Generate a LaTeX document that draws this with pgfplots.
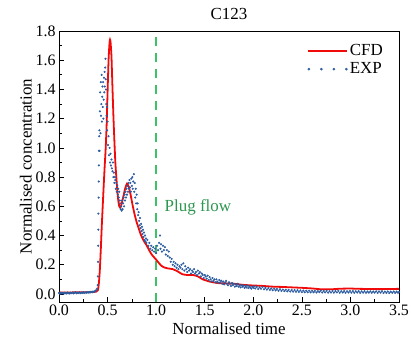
\documentclass[border=0pt]{standalone}
\usepackage{fontspec}
\setmainfont{Liberation Serif}
\usepackage{pgfplots}
\pgfplotsset{compat=1.18}
\definecolor{cfdred}{RGB}{240,10,10}
\definecolor{expblue}{RGB}{44,92,160}
\definecolor{plugline}{RGB}{60,195,105}
\definecolor{plugtext}{RGB}{45,150,80}
\begin{document}
\begin{tikzpicture}
\useasboundingbox (-59bp,-39bp) rectangle (352bp,302bp);
\begin{axis}[
  at={(0,0)}, anchor=south west,
  scale only axis, width=340bp, height=271bp,
  xmin=0, xmax=3.5, ymin=-0.055, ymax=1.8,
  xtick={0,0.5,...,3.5}, ytick={0,0.2,...,1.8},
  minor x tick num=1, minor y tick num=1,
  tick align=inside, xtick pos=bottom, ytick pos=left,
  major tick length=5bp, minor tick length=3bp,
  axis line style={line width=0.8pt}, every tick/.style={line width=0.7pt, black},
  /pgf/number format/.cd, fixed, fixed zerofill, precision=1, assume math mode=true,
  /pgfplots/.cd,
  tick label style={font=\fontsize{16}{18}\selectfont},
  xticklabel style={yshift=1bp},
  label style={font=\fontsize{17}{19}\selectfont},
  xlabel style={yshift=-1bp},
  ylabel style={yshift=-3bp},
  title style={font=\fontsize{17}{19}\selectfont, yshift=2bp},
  title={C123},
  xlabel={Normalised time}, ylabel={Normalised concentration},
  legend style={draw=none, fill=none, at={(1,1)}, anchor=north east, xshift=-13bp, yshift=-10bp,
    font=\fontsize{17}{19}\selectfont, row sep=2bp, inner sep=1bp},
  legend cell align=left,
]
\addplot[plugline, line width=1.6pt, dash pattern=on 9bp off 7bp, forget plot] coordinates {(1,-0.055)(1,1.8)};
\node[text=plugtext, font=\fontsize{17}{19}\selectfont] at (axis cs:1.43,0.595) {Plug flow};
\addplot[cfdred, line width=1.8pt, smooth, tension=0.3,
  legend image code/.code={\draw[cfdred, line width=2pt] (0bp,0bp) -- (39bp,0bp);}] coordinates {
(0,0.01)(0.1,0.01)(0.2,0.012)(0.3,0.012)(0.38,0.015)(0.40,0.025)(0.41,0.07)(0.42,0.16)(0.43,0.30)(0.44,0.46)(0.45,0.60)(0.46,0.74)(0.47,0.87)(0.48,0.99)(0.49,1.15)(0.50,1.38)(0.51,1.60)(0.52,1.72)(0.525,1.74)(0.53,1.73)(0.54,1.63)(0.55,1.42)(0.56,1.22)(0.57,1.05)(0.58,0.90)(0.59,0.80)(0.60,0.71)(0.61,0.64)(0.62,0.60)(0.63,0.59)(0.64,0.605)(0.66,0.66)(0.68,0.72)(0.70,0.755)(0.72,0.73)(0.74,0.67)(0.76,0.60)(0.78,0.54)(0.80,0.49)(0.82,0.45)(0.84,0.41)(0.86,0.38)(0.88,0.355)(0.90,0.335)(0.92,0.31)(0.94,0.285)(0.96,0.265)(0.98,0.25)(1.00,0.235)(1.03,0.21)(1.06,0.19)(1.09,0.18)(1.12,0.175)(1.17,0.17)(1.22,0.155)(1.27,0.135)(1.32,0.13)(1.38,0.13)(1.43,0.12)(1.48,0.10)(1.55,0.085)(1.63,0.075)(1.70,0.073)(1.80,0.07)(1.90,0.062)(2.00,0.058)(2.1,0.055)(2.2,0.05)(2.3,0.048)(2.4,0.045)(2.5,0.042)(2.6,0.038)(2.7,0.032)(2.8,0.032)(2.9,0.036)(3.0,0.037)(3.1,0.035)(3.2,0.034)(3.3,0.033)(3.4,0.034)(3.5,0.035)
};
\addlegendentry{CFD}
\addplot[only marks, mark=*, mark size=0.85pt, expblue,
  legend image code/.code={\foreach \k in {0,1,2,3}{\fill[expblue] (\k*12.5bp+1bp,0bp) circle (1.1bp);}}] coordinates {
(0.00,0.006)(0.01,0.002)(0.02,0.009)(0.03,0.004)(0.04,0.008)(0.05,0.002)(0.06,0.009)(0.07,0.005)(0.08,0.003)(0.09,0.010)
(0.10,0.005)(0.11,0.003)(0.12,0.009)(0.13,0.005)(0.14,0.010)(0.15,0.004)(0.16,0.008)(0.17,0.011)(0.18,0.005)(0.19,0.009)
(0.20,0.006)(0.21,0.011)(0.22,0.005)(0.23,0.010)(0.24,0.007)(0.25,0.012)(0.26,0.006)(0.27,0.011)(0.28,0.008)(0.29,0.013)
(0.30,0.009)(0.31,0.014)(0.32,0.010)(0.33,0.015)(0.34,0.011)(0.35,0.017)(0.36,0.014)(0.37,0.020)(0.38,0.024)(0.39,0.035)
(0.398,0.06)(0.400,0.12)(0.402,0.22)(0.404,0.33)(0.405,0.44)(0.406,0.55)(0.408,0.66)(0.409,0.77)(0.410,0.88)(0.412,0.98)(0.414,1.08)(0.416,1.12)
(0.418,0.98)(0.421,1.25)(0.424,1.38)(0.427,1.10)(0.430,1.45)(0.433,1.22)(0.436,1.30)(0.439,1.50)(0.442,1.18)(0.445,1.35)
(0.448,1.42)(0.451,1.28)(0.454,1.45)(0.457,1.20)(0.460,1.33)(0.463,1.48)(0.466,1.38)(0.469,1.52)(0.472,1.42)(0.475,1.55)
(0.478,1.61)(0.481,1.47)(0.484,1.40)(0.487,1.30)(0.490,1.22)(0.493,1.28)(0.496,1.12)(0.500,1.18)(0.505,1.02)(0.510,1.08)
(0.515,0.95)(0.520,1.00)(0.525,0.90)(0.530,0.96)(0.535,0.88)(0.540,0.92)(0.545,0.86)(0.550,0.84)(0.555,0.90)(0.560,0.80)
(0.565,0.83)(0.570,0.76)(0.575,0.80)(0.580,0.78)(0.585,0.72)(0.590,0.76)(0.595,0.70)(0.600,0.74)(0.605,0.68)(0.610,0.72)
(0.615,0.66)(0.620,0.70)(0.625,0.64)(0.630,0.62)(0.635,0.58)(0.640,0.60)(0.645,0.57)(0.650,0.64)(0.655,0.58)(0.660,0.62)
(0.665,0.66)(0.670,0.60)(0.675,0.68)(0.680,0.64)(0.685,0.70)(0.690,0.66)(0.695,0.72)(0.700,0.68)(0.705,0.74)(0.710,0.70)
(0.715,0.76)(0.720,0.72)(0.725,0.78)(0.730,0.73)(0.735,0.76)(0.740,0.70)(0.745,0.79)(0.750,0.74)(0.755,0.80)(0.760,0.72)
(0.765,0.77)(0.770,0.82)(0.775,0.70)(0.780,0.76)(0.785,0.66)(0.790,0.72)(0.795,0.62)(0.800,0.68)(0.805,0.58)(0.810,0.62)
(0.815,0.54)(0.820,0.56)(0.825,0.50)(0.830,0.47)(0.835,0.52)(0.840,0.45)(0.845,0.48)(0.850,0.43)(0.855,0.46)(0.860,0.41)
(0.865,0.44)(0.870,0.39)(0.875,0.42)(0.880,0.37)(0.885,0.40)(0.890,0.36)(0.895,0.38)(0.900,0.35)(0.910,0.37)(0.920,0.33)
(0.930,0.35)(0.940,0.31)(0.950,0.33)(0.960,0.30)(0.970,0.32)(0.980,0.29)(0.990,0.31)(1.000,0.28)(1.010,0.33)(1.020,0.30)
(1.030,0.35)(1.040,0.40)(1.045,0.31)(1.050,0.34)(1.060,0.29)(1.070,0.33)(1.080,0.30)(1.090,0.32)(1.100,0.27)(1.110,0.30)
(1.120,0.26)(1.130,0.29)(1.140,0.25)(1.150,0.22)(1.160,0.24)(1.170,0.20)(1.180,0.22)(1.190,0.19)(1.200,0.21)(1.210,0.18)
(1.220,0.20)(1.230,0.17)(1.240,0.19)(1.250,0.18)(1.260,0.20)(1.270,0.17)(1.280,0.21)(1.290,0.16)(1.300,0.19)(1.310,0.17)
(1.320,0.15)(1.330,0.18)(1.340,0.16)(1.350,0.17)(1.360,0.14)(1.370,0.16)(1.380,0.15)(1.390,0.17)(1.400,0.14)(1.410,0.15)
(1.420,0.13)(1.430,0.16)(1.440,0.14)(1.450,0.15)(1.460,0.12)(1.470,0.14)(1.480,0.13)(1.490,0.11)(1.500,0.13)(1.510,0.12)
(1.520,0.105)(1.530,0.125)(1.540,0.095)(1.550,0.115)(1.560,0.10)(1.570,0.085)(1.580,0.11)(1.590,0.09)(1.600,0.10)(1.610,0.08)
(1.620,0.10)(1.630,0.085)(1.640,0.075)(1.650,0.095)(1.660,0.08)(1.670,0.09)(1.680,0.07)(1.690,0.085)(1.700,0.065)(1.710,0.08)
(1.720,0.09)(1.730,0.07)(1.740,0.06)(1.750,0.08)(1.760,0.07)(1.770,0.055)(1.780,0.075)(1.790,0.06)(1.800,0.07)(1.810,0.05)
(1.820,0.065)(1.830,0.055)(1.840,0.07)(1.850,0.05)(1.860,0.06)(1.870,0.045)(1.880,0.06)(1.890,0.05)(1.900,0.058)(1.910,0.042)
(1.920,0.055)(1.930,0.045)(1.940,0.058)(1.950,0.04)(1.960,0.052)(1.970,0.044)(1.980,0.036)(1.990,0.05)(2.000,0.042)(2.010,0.052)
(2.020,0.038)(2.035,0.048)(2.050,0.034)(2.065,0.045)(2.080,0.036)(2.095,0.048)(2.110,0.032)(2.125,0.042)(2.140,0.030)(2.155,0.040)
(2.170,0.028)(2.185,0.038)(2.200,0.026)(2.215,0.036)(2.230,0.024)(2.245,0.034)(2.260,0.022)(2.275,0.032)(2.290,0.021)(2.305,0.030)
(2.320,0.020)(2.335,0.029)(2.350,0.018)(2.365,0.028)(2.380,0.017)(2.395,0.027)(2.410,0.016)(2.425,0.026)(2.440,0.015)(2.455,0.025)
(2.470,0.014)(2.485,0.024)(2.500,0.013)(2.515,0.023)(2.530,0.012)(2.545,0.022)(2.560,0.012)(2.575,0.022)(2.590,0.011)(2.605,0.021)
(2.620,0.011)(2.635,0.021)(2.650,0.010)(2.665,0.020)(2.680,0.012)(2.695,0.022)(2.710,0.010)(2.725,0.020)(2.740,0.011)(2.755,0.021)
(2.770,0.009)(2.785,0.019)(2.800,0.010)(2.815,0.020)(2.830,0.009)(2.845,0.019)(2.860,0.011)(2.875,0.021)(2.890,0.009)(2.905,0.019)
(2.920,0.010)(2.935,0.020)(2.950,0.008)(2.965,0.018)(2.980,0.010)(2.995,0.020)(3.010,0.009)(3.025,0.019)(3.040,0.008)(3.055,0.018)
(3.070,0.010)(3.085,0.019)(3.100,0.008)(3.115,0.018)(3.130,0.009)(3.145,0.019)(3.160,0.008)(3.175,0.017)(3.190,0.009)(3.205,0.018)
(3.220,0.008)(3.235,0.017)(3.250,0.009)(3.265,0.018)(3.280,0.007)(3.295,0.017)(3.310,0.009)(3.325,0.018)(3.340,0.007)(3.355,0.016)
(3.370,0.008)(3.385,0.017)(3.400,0.007)(3.415,0.016)(3.430,0.008)(3.445,0.017)(3.460,0.007)(3.475,0.016)(3.490,0.008)(3.500,0.014)
};
\addlegendentry{EXP}
\end{axis}
\end{tikzpicture}
\end{document}
